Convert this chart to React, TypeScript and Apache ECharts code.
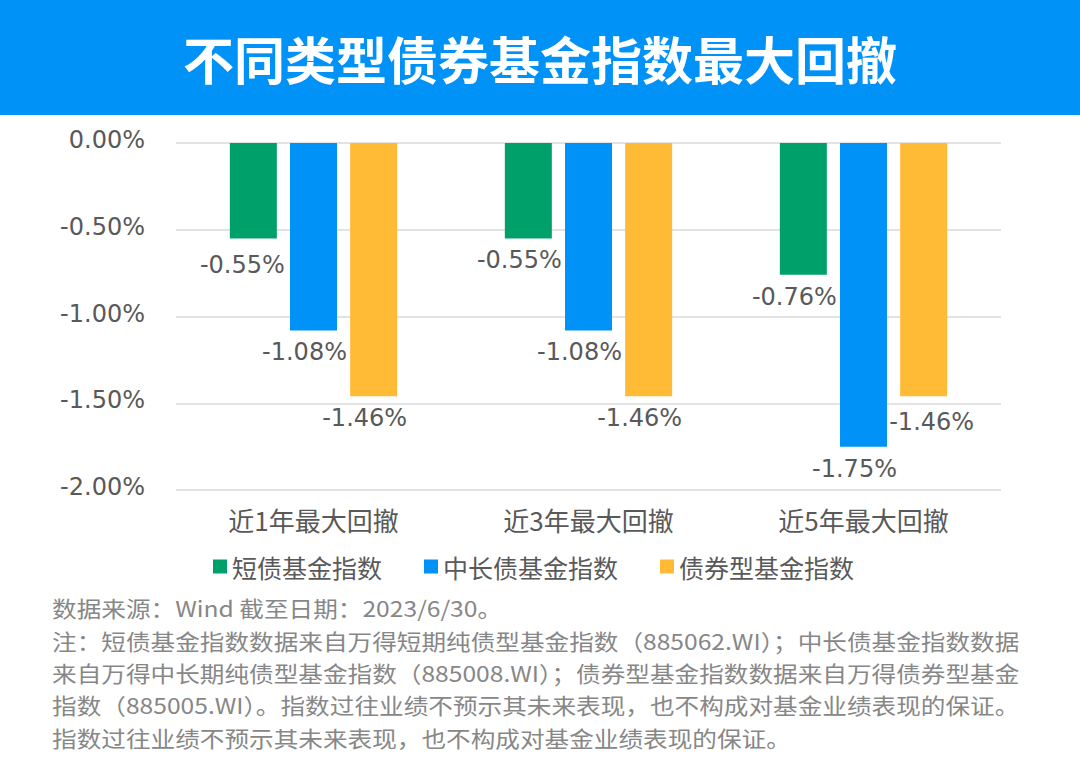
import React, { useEffect, useRef } from "react";
import * as echarts from "echarts";

const title = "不同类型债券基金指数最大回撤";
const categories = ["近1年最大回撤", "近3年最大回撤", "近5年最大回撤"];
const seriesNames = ["短债基金指数", "中长债基金指数", "债券型基金指数"];
const shortBond = [-0.55, -0.55, -0.76];
const midLongBond = [-1.08, -1.08, -1.75];
const bondType = [-1.46, -1.46, -1.46];
const colors = ["#00A06B", "#0192F8", "#FFBA36"];
const footLines = [
  "数据来源：Wind 截至日期：2023/6/30。",
  "注：短债基金指数数据来自万得短期纯债型基金指数（885062.WI）；中长债基金指数数据",
  "来自万得中长期纯债型基金指数（885008.WI）；债券型基金指数数据来自万得债券型基金",
  "指数（885005.WI）。指数过往业绩不预示其未来表现，也不构成对基金业绩表现的保证。",
  "指数过往业绩不预示其未来表现，也不构成对基金业绩表现的保证。",
];

const FONT = "'Noto Sans CJK SC', 'Noto Sans', sans-serif";
const NUMFONT = "'DejaVu Sans', 'Noto Sans', sans-serif";

export default function App() {
  const ref = useRef<HTMLDivElement>(null);
  useEffect(() => {
    if (!ref.current) return;
    const chart = echarts.init(ref.current, null, { renderer: "svg" });
    const data = [shortBond, midLongBond, bondType];
    chart.setOption({
      animation: false,
      backgroundColor: "#ffffff",
      textStyle: { fontFamily: FONT },
      grid: { left: 176, right: 79, top: 143, bottom: 268, containLabel: false },
      legend: {
        top: 549,
        left: 208,
        itemWidth: 14,
        itemHeight: 14,
        itemGap: 42,
        itemStyle: { borderWidth: 0 },
        icon: "rect",
        textStyle: { fontSize: 25, color: "#595959", fontFamily: FONT },
        data: seriesNames,
      },
      xAxis: {
        type: "category",
        data: categories,
        position: "bottom",
        axisLine: { show: false, onZero: false },
        axisTick: { show: false },
        axisLabel: { fontSize: 26, color: "#595959", margin: 16, fontFamily: FONT },
      },
      yAxis: {
        type: "value",
        min: -2,
        max: 0,
        interval: 0.5,
        axisLine: { show: false },
        axisTick: { show: false },
        splitLine: { lineStyle: { color: "#DADADA", width: 1.5 } },
        axisLabel: {
          fontSize: 24,
          color: "#595959",
          margin: 31,
          fontFamily: NUMFONT,
          verticalAlign: "bottom",
          lineHeight: 26,
          padding: [0, 0, -10, 0],
          formatter: (v: number) => v.toFixed(2) + "%",
        },
      },
      series: seriesNames.map((name, i) => ({
        name,
        type: "bar",
        data: data[i].map((v, j) =>
          i === 2 && j === 2
            ? { value: v, label: { offset: [8, 4] } }
            : i === 0 && j === 0
            ? { value: v, label: { offset: [-11, 5] } }
            : { value: v }
        ),
        barWidth: 47,
        barGap: "28%",
        itemStyle: { color: colors[i] },
        label: {
          show: true,
          position: "bottom",
          distance: 10,
          offset: [-9, 0],
          fontSize: 24,
          color: "#595959",
          fontFamily: NUMFONT,
          formatter: (p: any) => p.value.toFixed(2) + "%",
        },
      })),
      graphic: [
        { type: "rect", left: 0, top: 0, shape: { width: 1080, height: 115 }, style: { fill: "#0192F8" } },
        {
          type: "text",
          x: 540,
          y: 58,
          style: {
            text: title,
            fill: "#ffffff",
            font: `bold 51px ${FONT}`,
            align: "center",
            verticalAlign: "middle",
          },
        },
        ...footLines.map((t, i) => ({
          type: "text",
          x: 52,
          y: 608 + i * 32.3,
          scaleX: 1.12,
          style: {
            text: t,
            fill: "#878787",
            font: `22px ${FONT}`,
            align: "left",
            verticalAlign: "middle",
          },
        })),
      ],
    });
    return () => chart.dispose();
  }, []);
  return (
    <div
      ref={ref}
      style={{ position: "absolute", left: 0, top: 0, width: 1080, height: 758 }}
    />
  );
}
